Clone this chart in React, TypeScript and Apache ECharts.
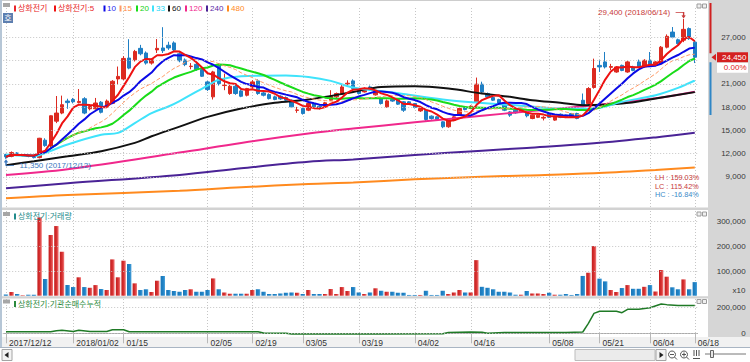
import React, { useEffect, useRef } from 'react';
import * as echarts from 'echarts';

const stockName = '상화전기';

const dates = [
  '2017/12/12','2017/12/13','2017/12/14','2017/12/15','2017/12/18','2017/12/19','2017/12/20','2017/12/21','2017/12/22','2017/12/26','2017/12/27','2017/12/28',
  '2018/01/02','2018/01/03','2018/01/04','2018/01/05','2018/01/08','2018/01/09','2018/01/10','2018/01/11','2018/01/12',
  '2018/01/15','2018/01/16','2018/01/17','2018/01/18','2018/01/19','2018/01/22','2018/01/23','2018/01/24','2018/01/25','2018/01/26','2018/01/29','2018/01/30','2018/01/31','2018/02/01','2018/02/02',
  '2018/02/05','2018/02/06','2018/02/07','2018/02/08','2018/02/09','2018/02/12','2018/02/13','2018/02/14',
  '2018/02/19','2018/02/20','2018/02/21','2018/02/22','2018/02/23','2018/02/26','2018/02/27','2018/02/28','2018/03/02',
  '2018/03/05','2018/03/06','2018/03/07','2018/03/08','2018/03/09','2018/03/12','2018/03/13','2018/03/14','2018/03/15','2018/03/16',
  '2018/03/19','2018/03/20','2018/03/21','2018/03/22','2018/03/23','2018/03/26','2018/03/27','2018/03/28','2018/03/29','2018/03/30',
  '2018/04/02','2018/04/03','2018/04/04','2018/04/05','2018/04/06','2018/04/09','2018/04/10','2018/04/11','2018/04/12','2018/04/13',
  '2018/04/16','2018/04/17','2018/04/18','2018/04/19','2018/04/20','2018/04/23','2018/04/24','2018/04/25','2018/04/26','2018/04/27','2018/04/30','2018/05/02','2018/05/03','2018/05/04',
  '2018/05/08','2018/05/09','2018/05/10','2018/05/11','2018/05/14','2018/05/15','2018/05/16','2018/05/17','2018/05/18',
  '2018/05/21','2018/05/23','2018/05/24','2018/05/25','2018/05/28','2018/05/29','2018/05/30','2018/05/31','2018/06/01',
  '2018/06/04','2018/06/05','2018/06/07','2018/06/08','2018/06/11','2018/06/12','2018/06/14','2018/06/15','2018/06/18',
];

const opens = [
  11900, 11650, 12100, 11700, 11750, 11700, 11500, 13750, 13000, 16200,
  17250, 18800, 19000, 18600, 19100, 17800, 17800, 18650, 18150, 18500,
  21650, 21650, 24350, 24120, 25600, 25000, 23700, 25400, 25650, 26000,
  26300, 24900, 24100, 23250, 23540, 22860, 21270, 19340, 23410, 20800,
  19770, 20710, 20110, 19550, 20620, 21400, 19850, 19640, 19340, 19420,
  19250, 18910, 17600, 17840, 17620, 18480, 18140, 18140, 18910, 19340,
  19770, 21000, 21400, 20280, 19980, 20620, 19600, 19120, 18050, 19000,
  18990, 18700, 18700, 18480, 17530, 17620, 16850, 16760, 16120, 15480,
  16330, 16980, 18050, 17840, 18700, 20970, 19770, 19250, 18990, 18480,
  17400, 17620, 17400, 17400, 16550, 16700, 16600, 17190, 16340, 17100,
  16980, 17190, 17190, 18900, 18480, 20550, 23400, 23850, 23150, 22550,
  23400, 22550, 23200, 23850, 23200, 24050, 23400, 23600, 25750, 27700,
  26700, 26650, 28150, 26400,
];

const closes = [
  11600, 12150, 11800, 11750, 11650, 11500, 14000, 13050, 16900, 17250,
  18330, 18600, 18700, 18750, 17250, 18100, 18550, 17350, 18800, 21350,
  21980, 24300, 23050, 25200, 24900, 23700, 24120, 25600, 25300, 25650,
  25400, 24000, 23500, 23300, 22860, 22000, 20280, 22560, 21060, 20850,
  20710, 19770, 19420, 20410, 21270, 19770, 19550, 19120, 19000, 19080,
  18910, 18050, 17650, 17190, 18480, 18050, 17840, 18570, 19420, 19770,
  20620, 21100, 20410, 19770, 20410, 20280, 20000, 18480, 18820, 18800,
  18400, 17620, 18480, 17970, 17840, 16420, 16550, 16420, 15480, 16330,
  16760, 17840, 17700, 18140, 20970, 19980, 19340, 18910, 18480, 17620,
  16980, 17280, 17700, 16900, 16980, 16980, 16700, 16700, 16760, 16700,
  16700, 16760, 16550, 18050, 20410, 23000, 23200, 23200, 23250, 23200,
  22750, 23850, 22750, 23200, 24050, 23550, 23850, 25750, 27150, 27050,
  26200, 28050, 26850, 24450,
];

const lows = [
  11350, 11550, 11700, 11600, 11550, 11400, 11400, 12900, 12800, 15950,
  17100, 17800, 18500, 18500, 17100, 17600, 17700, 17200, 17900, 18400,
  20900, 21500, 22900, 23900, 24700, 23500, 23500, 25000, 25000, 25400,
  25200, 23800, 23300, 22900, 22700, 21900, 20100, 19000, 20800, 20200,
  19600, 19600, 19300, 19400, 20400, 19600, 19400, 19000, 18900, 18950,
  18800, 17900, 17280, 17050, 17500, 17900, 17700, 18000, 18800, 19200,
  19700, 20620, 20300, 19650, 19900, 20100, 19500, 18350, 17950, 18700,
  18300, 17400, 18300, 17850, 17400, 16250, 16400, 16300, 15300, 15350,
  16200, 16900, 17600, 17750, 18500, 19850, 19200, 18800, 18350, 17500,
  16760, 17150, 17300, 16700, 16450, 16600, 16300, 16600, 16250, 16600,
  16600, 16650, 16450, 17600, 18300, 20400, 22550, 23000, 22800, 22450,
  22650, 22450, 22650, 23100, 23100, 23450, 23300, 23500, 25600, 26900,
  26100, 26400, 26700, 23700,
];

const highs = [
  12000, 12300, 12200, 11900, 11850, 11800, 14050, 14000, 16950, 19450,
  19500, 19100, 19200, 20350, 19300, 18300, 19200, 18800, 19000, 21500,
  23250, 24600, 26780, 25400, 26050, 25200, 24300, 26800, 28330, 26450,
  26500, 25100, 24300, 23700, 23700, 23000, 21400, 22700, 23700, 22340,
  20900, 20900, 20300, 20500, 21500, 21600, 20000, 19800, 19500, 19550,
  19400, 19000, 18050, 17950, 18600, 18600, 18250, 18700, 20200, 19900,
  20900, 21480, 21600, 20400, 20550, 20800, 20200, 19250, 19000, 19200,
  19100, 18800, 18800, 18550, 17950, 17700, 16950, 16850, 16200, 16400,
  16850, 17950, 18150, 18250, 21830, 21300, 19900, 19400, 19100, 18550,
  17500, 17700, 17800, 17500, 17050, 17100, 16850, 17300, 16850, 17200,
  17050, 17250, 17300, 19770, 20600, 24270, 24050, 25130, 23600, 23300,
  23500, 24000, 23350, 24150, 24200, 25130, 23950, 25900, 27400, 28350,
  26850, 29400, 28300, 26600,
];

const volumes = [
  5000, 15000, 7000, 2000, 4000, 4000, 317000, 67600, 245800, 282000,
  178000, 43300, 35000, 74500, 35000, 32000, 43000, 27000, 23000, 147000,
  74500, 141700, 128000, 50000, 23000, 26000, 15000, 60700, 79800, 23000,
  19000, 16000, 23000, 26000, 16000, 16000, 23000, 70000, 26000, 13000,
  8000, 8000, 8000, 8000, 23000, 26000, 16000, 7000, 7000, 9000,
  12000, 13000, 12000, 7000, 23000, 7000, 7000, 7000, 27000, 7000,
  35000, 19000, 35000, 13000, 7000, 13000, 30000, 20000, 16000, 16000,
  12000, 12000, 3000, 3000, 3000, 20000, 3000, 3000, 20000, 7000,
  13000, 23000, 13000, 13000, 144000, 36000, 32000, 26000, 16000, 16000,
  13000, 4000, 4000, 19000, 9000, 9000, 7000, 12000, 4000, 4000,
  7000, 3000, 7000, 80000, 93000, 201000, 69000, 58000, 23000, 15000,
  31000, 43000, 28000, 28000, 36000, 43000, 17000, 104000, 77000, 34000,
  26000, 66000, 26000, 55000,
];

// Moving averages computed from closes
const computedPeriods = [5, 10, 15, 20];

// Long moving averages: [day index, value]
const ma33 = [[0, 11900], [5, 11700], [7, 12100], [11, 13200], [17, 14450], [20, 14700], [23, 15950], [26, 17250], [29, 18100], [31, 18800], [36, 20800], [38, 21550], [42, 22000], [50, 22100], [54, 21900], [58, 21400], [62, 20550], [70, 19800], [78, 19000], [84, 18600], [92, 18200], [100, 17800], [105, 17850], [110, 18700], [116, 19550], [120, 20500], [123, 21450]];
const ma60 = [[0, 10520], [5, 11040], [11, 11680], [17, 12330], [23, 13400], [26, 14250], [31, 15500], [36, 16760], [42, 17840], [48, 18570], [54, 19000], [62, 19980], [67, 20620], [73, 20710], [79, 20410], [85, 19770], [90, 19340], [94, 18900], [99, 18570], [103, 18270], [110, 18480], [116, 19130], [123, 19950]];
const ma120 = [[0, 9250], [11, 10000], [31, 12150], [42, 13400], [54, 14600], [62, 15250], [73, 16050], [85, 16900], [93, 17450], [105, 18250], [116, 19150], [123, 20000]];
const ma240 = [[0, 7550], [11, 8190], [31, 9260], [42, 10120], [54, 10970], [62, 11270], [73, 11830], [85, 12390], [93, 12750], [105, 13340], [116, 14110], [123, 14700]];
const ma480 = [[0, 6260], [11, 6680], [31, 7220], [42, 7670], [54, 8100], [62, 8300], [73, 8700], [85, 9040], [93, 9200], [105, 9480], [116, 9900], [123, 10220]];

// Institutional net-buy cumulative: [day index, value]
const instCumulative = [[0, 12500], [8, 12500], [9, 20000], [10, 23000], [12, 14000], [13, 23000], [15, 14000], [18, 14000], [19, 28000], [21, 28000], [22, 12500], [45, 12500], [46, 2000], [50, 0], [51, -5500], [66, -6000], [78, -3000], [79, 7000], [83, 10000], [85, 9000], [86, 0], [89, 7000], [100, 7000], [103, 10000], [104, 78000], [105, 156000], [106, 172000], [109, 172000], [110, 161000], [111, 187000], [113, 187000], [115, 200000], [117, 229000], [118, 224000], [120, 218000], [123, 218000]];

const xTickDates = ['2017/12/12', '2018/01/02', '2018/01/15', '2018/02/05', '2018/02/19', '2018/03/05', '2018/03/19', '2018/04/02', '2018/04/16', '2018/05/08', '2018/05/21', '2018/06/04', '2018/06/18'];
const xTickLabels = ['2017/12/12', '2018/01/02', '01/15', '02/05', '02/19', '03/05', '03/19', '04/02', '04/16', '05/08', '05/21', '06/04', '06/18'];
const priceGridValues = [9000, 12000, 15000, 18000, 21000, 24000, 27000];
const priceLabelValues = [9000, 12000, 15000, 18000, 21000, 27000];
const volumeLabelValues = [100000, 200000, 300000];
const instLabelValues = [0, 200000];
const changeRateText = '0.00%';

// ---------------- styles / layout ----------------
const FONT = '"Liberation Sans", "Noto Sans CJK KR", sans-serif';
const UP = '#dc2a20';
const DOWN = '#1f7fc4';
const maStyles: Record<number, any> = {
  5: { color: '#ee1111', width: 2 },
  10: { color: '#0a0ae6', width: 2 },
  15: { color: '#ff9a66', width: 1, type: [4, 2] },
  20: { color: '#19dc19', width: 2 },
  33: { color: '#3fe3fb', width: 2 },
  60: { color: '#111111', width: 2 },
  120: { color: '#f0288c', width: 2 },
  240: { color: '#4a2396', width: 2 },
  480: { color: '#ff8a1e', width: 2 },
};
const legendTextColors: Record<number, string> = {
  5: '#e8262a', 10: '#1c1cf0', 15: '#ff8a40', 20: '#10d010', 33: '#20d6f4', 60: '#111111', 120: '#f0288c', 240: '#5a2aa8', 480: '#ff8a1e',
};

const N = dates.length;
const GRID_LEFT = 3.2;
const GRID_W = 694.4;
const PRICE_MIN = 5129;
const PRICE_MAX = 30806;
const VOL_MAX = 342915;
const INST_MIN = -28906;
const INST_MAX = 267969;

const fmt = (v: number) => {
  const s = Math.round(Math.abs(v)).toString().replace(/\B(?=(\d{3})+(?!\d))/g, ',');
  return v < 0 ? '-' + s : s;
};

function movingAverage(n: number) {
  return closes.map((_, i) => {
    const s = Math.max(0, i - n + 1);
    let sum = 0;
    for (let k = s; k <= i; k++) sum += closes[k];
    return Math.round(sum / (i - s + 1));
  });
}

const tickIdx = new Set(xTickDates.map((d) => dates.indexOf(d)));
const isTick = (i: number) => tickIdx.has(i);
const labelFor = (v: string) => {
  const k = xTickDates.indexOf(v);
  return k >= 0 ? xTickLabels[k] : '';
};
const dotted = { color: '#c6c6c6', width: 1, type: [1, 2] };

function catAxis(gridIndex: number, showLabels: boolean) {
  return {
    type: 'category',
    gridIndex,
    data: dates,
    boundaryGap: true,
    axisLine: { show: showLabels, lineStyle: { color: '#a9a9a9' } },
    axisTick: { show: showLabels, interval: isTick, alignWithLabel: true, length: 10, lineStyle: { color: '#b8b8b8' } },
    axisLabel: {
      show: showLabels, interval: isTick, formatter: (v: string) => labelFor(v),
      align: 'left', padding: [0, 0, 0, 3], margin: 2, fontSize: 8.5, color: '#333', fontFamily: FONT,
    },
    splitLine: { show: true, interval: isTick, alignWithLabel: true, lineStyle: dotted },
  };
}

function valAxis(gridIndex: number, min: number, max: number, labels: number[]) {
  return {
    type: 'value', gridIndex, position: 'right', min, max,
    axisLine: { show: false }, axisTick: { show: false }, splitLine: { show: false },
    axisLabel: { customValues: labels, formatter: (v: number) => fmt(v), align: 'right', margin: 48, fontSize: 8, color: '#383838', fontFamily: FONT },
  };
}

function gridLines(vals: number[]) {
  return {
    silent: true, symbol: ['none', 'none'], label: { show: false }, lineStyle: dotted,
    emphasis: { disabled: true }, animation: false,
    data: vals.map((v) => ({ yAxis: v })),
  };
}

function buildOption() {
  const hiIdx = highs.indexOf(Math.max(...highs));
  const loIdx = lows.indexOf(Math.min(...lows));
  const redGrad = new echarts.graphic.LinearGradient(0, 0, 1, 0, [
    { offset: 0, color: '#c21d1d' }, { offset: 0.55, color: '#d83232' }, { offset: 1, color: '#f27e7e' },
  ]);
  const blueGrad = new echarts.graphic.LinearGradient(0, 0, 1, 0, [
    { offset: 0, color: '#1a76b8' }, { offset: 0.6, color: '#2083c6' }, { offset: 1, color: '#4fa4dc' },
  ]);
  const sparse: [number, number[][]][] = [[480, ma480], [240, ma240], [120, ma120], [60, ma60], [33, ma33]];

  return {
    animation: false,
    backgroundColor: '#ffffff',
    grid: [
      { left: GRID_LEFT, width: GRID_W, top: 8, height: 199, outerBoundsMode: 'none' },
      { left: GRID_LEFT, width: GRID_W, top: 211, height: 84.7, outerBoundsMode: 'none' },
      { left: GRID_LEFT, width: GRID_W, top: 299, height: 38, outerBoundsMode: 'none' },
    ],
    xAxis: [
      catAxis(0, false),
      catAxis(1, false),
      catAxis(2, true),
      { type: 'value', gridIndex: 0, min: -0.5, max: N - 0.5, show: false },
      { type: 'value', gridIndex: 2, min: -0.5, max: N - 0.5, show: false },
    ],
    yAxis: [
      valAxis(0, PRICE_MIN, PRICE_MAX, priceLabelValues),
      valAxis(1, 0, VOL_MAX, volumeLabelValues),
      valAxis(2, INST_MIN, INST_MAX, instLabelValues),
    ],
    series: [
      { type: 'line', xAxisIndex: 0, yAxisIndex: 0, data: [], z: 1, silent: true, markLine: gridLines(priceGridValues) },
      { type: 'line', xAxisIndex: 1, yAxisIndex: 1, data: [], z: 1, silent: true, markLine: gridLines(volumeLabelValues) },
      { type: 'line', xAxisIndex: 4, yAxisIndex: 2, data: [], z: 1, silent: true, markLine: gridLines(instLabelValues) },
      {
        type: 'candlestick', name: stockName, xAxisIndex: 0, yAxisIndex: 0, barWidth: 4, z: 2, silent: true,
        data: dates.map((_, i) => [opens[i], closes[i], lows[i], highs[i]]),
        itemStyle: { color: UP, color0: DOWN, borderColor: UP, borderColor0: DOWN, borderWidth: 1 },
        markPoint: {
          silent: true, animation: false,
          data: [
            {
              coord: [dates[hiIdx], highs[hiIdx]],
              symbol: 'path://M0 0 L8 0 L8 5 M6.5 3 L8 5 L9.5 3', symbolSize: [9.5, 5], symbolOffset: [-3.25, -4],
              itemStyle: { color: 'none', borderColor: '#c83a3a', borderWidth: 1 },
              label: { show: true, position: 'left', distance: 2, offset: [0, -2.5], formatter: `${fmt(highs[hiIdx])} (${dates[hiIdx]})`, color: '#c83a3a', fontSize: 8, fontFamily: FONT },
            },
            {
              coord: [dates[loIdx], lows[loIdx]],
              symbol: 'path://M1.5 0 L1.5 5 L9.5 5 M0 2 L1.5 0 L3 2', symbolSize: [9.5, 5], symbolOffset: [3.25, 4],
              itemStyle: { color: 'none', borderColor: '#3a78c0', borderWidth: 1 },
              label: { show: true, position: 'right', distance: 2, offset: [0, 2.5], formatter: `${fmt(lows[loIdx])} (${dates[loIdx]})`, color: '#3a78c0', fontSize: 8, fontFamily: FONT },
            },
          ],
        },
      },
      ...sparse.map(([p, pts]) => ({
        type: 'line', name: String(p), xAxisIndex: 3, yAxisIndex: 0, data: pts, showSymbol: false, symbol: 'none',
        smooth: 0.35, lineStyle: maStyles[p], z: 3, silent: true,
      })),
      ...computedPeriods.slice().reverse().map((p) => ({
        type: 'line', name: String(p), xAxisIndex: 0, yAxisIndex: 0, data: movingAverage(p), showSymbol: false, symbol: 'none',
        lineStyle: maStyles[p], z: 4, silent: true,
      })),
      {
        type: 'bar', xAxisIndex: 1, yAxisIndex: 1, barWidth: 4.4, z: 2, silent: true,
        data: volumes.map((v, i) => ({ value: v, itemStyle: { color: closes[i] >= opens[i] ? redGrad : blueGrad } })),
      },
      {
        type: 'line', xAxisIndex: 4, yAxisIndex: 2, data: instCumulative, showSymbol: false, symbol: 'none',
        lineStyle: { color: '#1f7a26', width: 1.5 }, z: 3, silent: true, clip: false,
      },
    ],
  };
}

function buildGraphics(py: number) {
  const els: any[] = [];
  const R = (id: string, x: number, y: number, w: number, h: number, fill: string, stroke = 'none', z = -5) =>
    els.push({ id, type: 'rect', z, silent: true, shape: { x, y, width: w, height: h }, style: { fill, stroke, lineWidth: stroke === 'none' ? 0 : 1 } });
  const T = (id: string, text: string, x: number, y: number, fill: string, size = 8, align = 'left') =>
    els.push({ id, type: 'text', z: 60, silent: true, style: { text, x, y, fill, font: `${size}px ${FONT}`, align, verticalAlign: 'middle', textAlign: align, textVerticalAlign: 'middle' } });
  const P = (id: string, points: number[][], fill: string, z = 60) =>
    els.push({ id, type: 'polygon', z, silent: true, shape: { points }, style: { fill } });
  const L = (id: string, x1: number, y1: number, x2: number, y2: number, stroke: string, z = 60) =>
    els.push({ id, type: 'line', z, silent: true, shape: { x1, y1, x2, y2 }, style: { stroke, lineWidth: 1 } });

  // panels and frame
  R('bgRight', 708, 0, 42, 337, '#d6d6d6', 'none', -10);
  R('frameL', 0, 0, 2, 347, '#b6c6d6', 'none', -10);
  R('frameT', 2, 0, 706, 1, '#cdcdcd', 'none', -10);
  R('sep1', 2, 207.5, 706, 2.5, '#d2d2d2', 'none', -10);
  R('sep2', 2, 296.3, 706, 2.2, '#d2d2d2', 'none', -10);
  R('labelRow', 2, 337, 748, 10, '#f1f1f1', 'none', -10);
  R('scrollBg', 0, 347, 750, 15, '#ffffff', 'none', -10);
  R('scrollLine', 0, 347, 750, 1, '#a9b5c3', 'none', -9);

  // top legend
  R('icoTop', 3, 3, 7, 4, '#a6a6a6', 'none', 40);
  const legendLayout = [[14, 18], [54, 58], [103.5, 107], [119.5, 123], [136, 140], [152, 156], [168, 172], [185, 189], [206, 210], [227, 231]];
  const legendNames = [stockName, `${stockName}:5`, '10', '15', '20', '33', '60', '120', '240', '480'];
  const legendKeys = [5, 5, 10, 15, 20, 33, 60, 120, 240, 480];
  legendNames.forEach((name, k) => {
    const key = legendKeys[k];
    const col = k === 0 ? '#e8262a' : legendTextColors[key];
    R(`lgm${k}`, legendLayout[k][0], 5.5, 2, 6, k === 0 ? '#e8262a' : maStyles[key].color, 'none', 40);
    T(`lgt${k}`, name, legendLayout[k][1], 8.7, col, 8);
  });
  R('hoBox', 3, 13, 10, 10, '#5d7fb0', 'none', 40);
  T('hoTxt', '호', 8, 18.2, '#ffffff', 8, 'center');

  // panel mini buttons
  [4, 212, 299.5].forEach((y, k) => {
    R(`mA${k}`, 697, y, 4, 4, '#f0f0f0', '#9c9c9c', 40);
    R(`mB${k}`, 702.5, y, 4, 4, '#f0f0f0', '#9c9c9c', 40);
  });

  // volume & institutional legends
  R('icoVol', 3, 212, 7, 4, '#a6a6a6', 'none', 40);
  R('lgVolM', 14, 213.5, 2, 6, '#228b8b', 'none', 40);
  T('lgVolT', `${stockName}:거래량`, 18, 216.8, '#228b8b', 8);
  R('icoInst', 3, 299.5, 7, 4, '#a6a6a6', 'none', 40);
  R('lgInstM', 14, 301, 2, 6, '#2b8a3e', 'none', 40);
  T('lgInstT', `${stockName}:기관순매수누적`, 18, 304.3, '#2b8a3e', 8);
  T('x10', 'x10', 745.5, 290.5, '#383838', 8, 'right');

  // LH / LC / HC
  const hi = Math.max(...highs);
  const lo = Math.min(...lows);
  const cur = closes[N - 1];
  T('lh', `LH : ${((hi - lo) / lo * 100).toFixed(2)}%`, 655, 177.8, '#c83a3a', 7.3);
  T('lc', `LC : ${((cur - lo) / lo * 100).toFixed(2)}%`, 655, 186, '#c83a3a', 7.3);
  T('hc', `HC : ${((cur - hi) / hi * 100).toFixed(2)}%`, 655, 194.2, '#3a8ac8', 7.3);

  // current price tag and side bar
  R('barRed', 709.5, 3, 2, py - 7, '#d02020', 'none', 50);
  R('barBlue', 709.5, py + 5, 2, Math.max(0, 115 - py - 5), '#2f86c6', 'none', 50);
  P('tagTri', [[711.5, py], [716, py - 3.5], [716, py + 3.5]], '#d42020');
  R('tagBox', 717, py - 5, 31, 10, '#d42020', 'none', 55);
  T('tagTxt', fmt(cur), 746.5, py, '#ffffff', 8, 'right');
  R('pctBox', 717, py + 5.5, 31, 10, '#ffffff', 'none', 55);
  T('pctTxt', changeRateText, 746.5, py + 10.5, '#e02020', 8, 'right');

  // scroll bar widgets
  R('scrL', 2, 349.5, 10, 11, '#f3f3f3', '#a4a4a4', 10);
  P('scrLTri', [[4.5, 355], [8.5, 352], [8.5, 358]], '#222222');
  R('thumb', 575, 349.5, 80, 11, '#ebebeb', '#bdbdbd', 10);
  R('scrR', 656, 349.5, 10, 11, '#f3f3f3', '#a4a4a4', 10);
  P('scrRTri', [[663.5, 355], [659.5, 352], [659.5, 358]], '#222222');
  els.push({ id: 'zm1', type: 'circle', z: 60, silent: true, shape: { cx: 672, cy: 354.5, r: 3.5 }, style: { fill: 'none', stroke: '#555', lineWidth: 1 } });
  L('zm1a', 670, 354.5, 674, 354.5, '#555');
  L('zm1h', 674.5, 357, 677, 359.5, '#555');
  els.push({ id: 'zm2', type: 'circle', z: 60, silent: true, shape: { cx: 684, cy: 354.5, r: 3.5 }, style: { fill: 'none', stroke: '#555', lineWidth: 1 } });
  L('zm2a', 682, 354.5, 686, 354.5, '#555');
  L('zm2b', 684, 352.5, 684, 356.5, '#555');
  L('zm2h', 686.5, 357, 689, 359.5, '#555');
  L('bar1', 694, 350, 694, 356, '#555');
  L('bar2', 696.5, 350, 696.5, 356, '#555');
  L('bar3', 699, 350, 699, 356, '#555');
  L('bar4', 693, 358.5, 700, 358.5, '#555');
  L('sld', 705, 354, 746, 354, '#777');
  R('sldK', 710.5, 350.5, 3, 7, '#e6e6e6', '#666', 61);
  return els;
}

export default function App() {
  const ref = useRef<HTMLDivElement>(null);
  useEffect(() => {
    if (!ref.current) return;
    const chart = echarts.init(ref.current, undefined, { renderer: 'svg' });
    chart.setOption(buildOption() as any);
    const py = chart.convertToPixel({ yAxisIndex: 0 } as any, closes[N - 1]) as unknown as number;
    chart.setOption({ graphic: { elements: buildGraphics(py) } } as any);
    return () => chart.dispose();
  }, []);
  return <div ref={ref} style={{ position: 'absolute', left: 0, top: 0, width: 750, height: 362 }} />;
}
